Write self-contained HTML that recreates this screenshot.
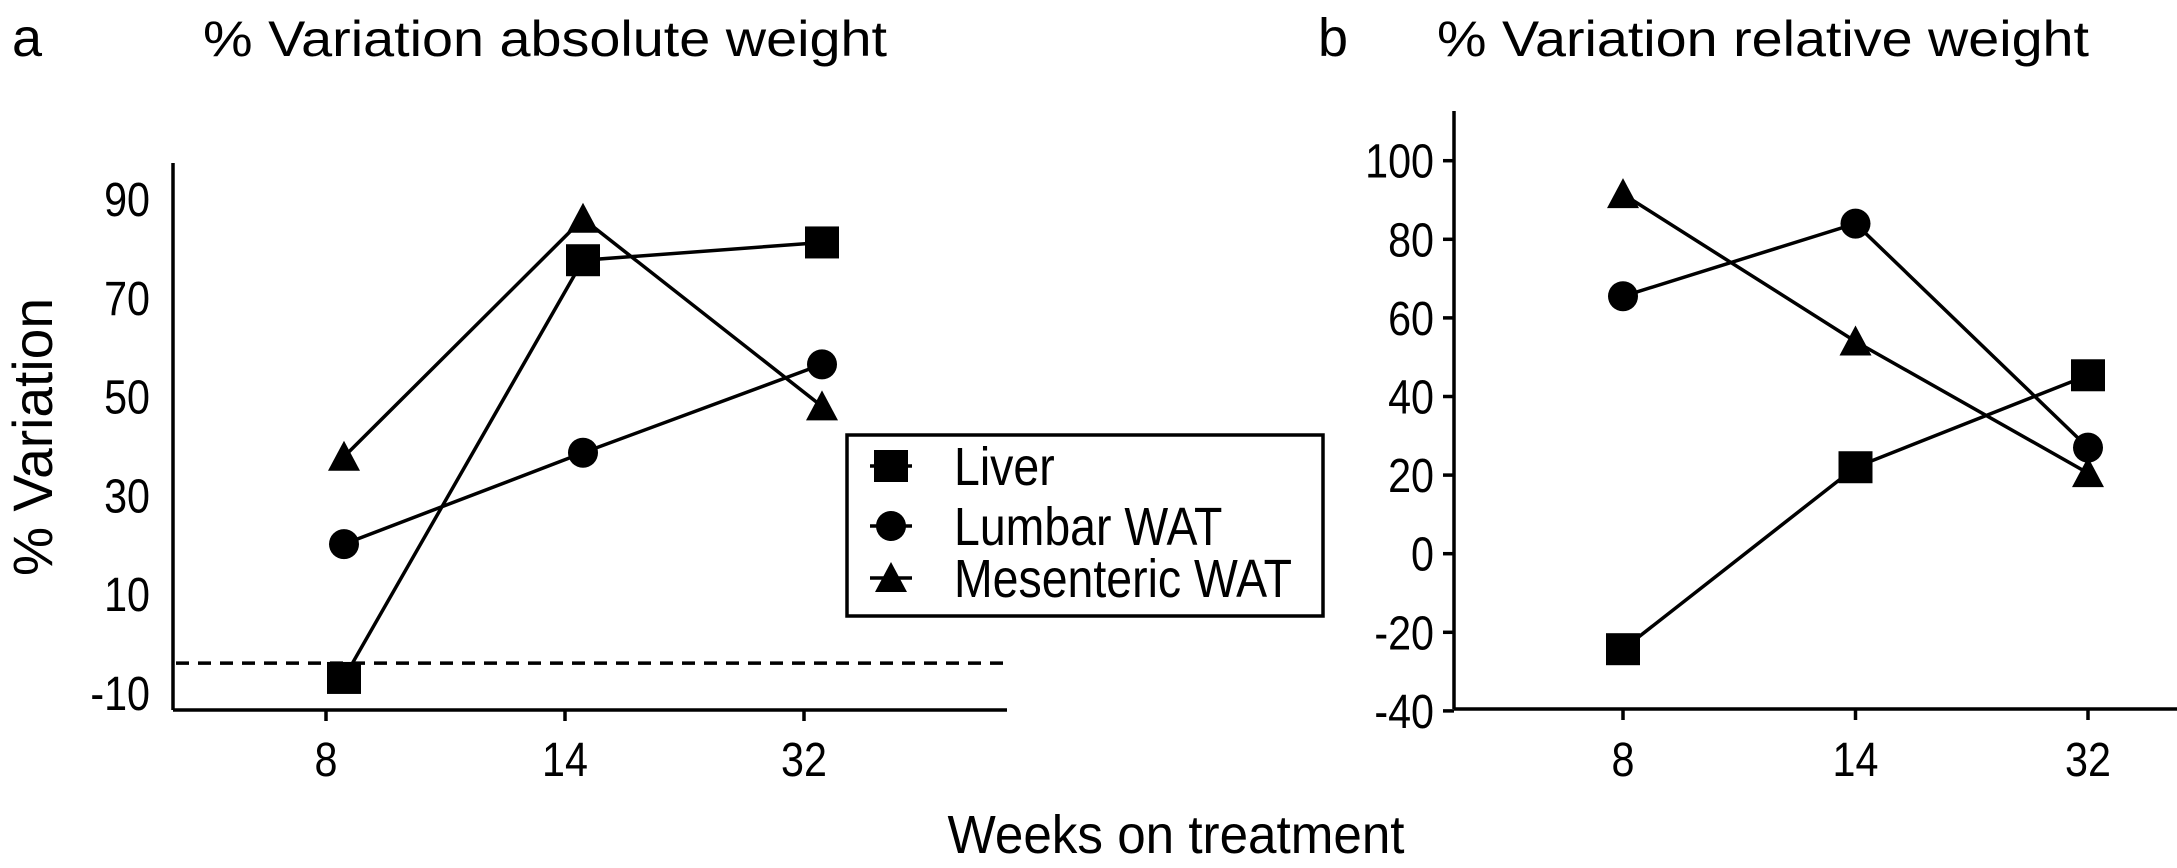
<!DOCTYPE html>
<html><head><meta charset="utf-8">
<style>
html,body{margin:0;padding:0;background:#fff;}
svg{display:block;font-family:"Liberation Sans",Arial,sans-serif;}
</style></head>
<body>
<svg id="chart" width="2177" height="868" viewBox="0 0 2177 868" xmlns="http://www.w3.org/2000/svg">
<text x="12" y="56" font-size="54">a</text>
<text x="203" y="56" font-size="50" textLength="684" lengthAdjust="spacingAndGlyphs">% Variation absolute weight</text>
<text x="1318" y="56" font-size="54">b</text>
<text x="1437" y="56" font-size="50" textLength="652" lengthAdjust="spacingAndGlyphs">% Variation relative weight</text>
<text transform="translate(52,437) rotate(-90)" text-anchor="middle" font-size="56" textLength="278" lengthAdjust="spacingAndGlyphs">% Variation</text>
<text x="1176" y="853" text-anchor="middle" font-size="54" textLength="457" lengthAdjust="spacingAndGlyphs">Weeks on treatment</text>
<g id="pa"></g>
<g id="pb"></g>
<g id="legend"></g>
</svg>
<script>
const categories = ["8","14","32"];
const seriesNames = ["Liver","Lumbar WAT","Mesenteric WAT"];
const seriesMarkers = ["square","circle","triangle"];
const aLiver = [-7, 77.6, 81.2];
const aLumbar = [20.1, 38.6, 56.5];
const aMesenteric = [37.8, 86, 48];
const aTicks = [90, 70, 50, 30, 10, -10];
const aBaseline = -4;
const bLiver = [-24.3, 22, 45.4];
const bLumbar = [65.5, 84, 27];
const bMesenteric = [91.5, 54, 20.5];
const bTicks = [100, 80, 60, 40, 20, 0, -20, -40];

const NS = "http://www.w3.org/2000/svg";
function mk(parent, tag, attrs){
  const e = document.createElementNS(NS, tag);
  for (const k in attrs) e.setAttribute(k, attrs[k]);
  parent.appendChild(e);
  return e;
}
function marker(g, type, x, y, name){
  let e;
  if (type === "square") e = mk(g, "rect", {x:x-17, y:y-16, width:34, height:32, fill:"#000"});
  else if (type === "circle") e = mk(g, "ellipse", {cx:x, cy:y, rx:15, ry:15, fill:"#000"});
  else e = mk(g, "polygon", {points:(x-16)+","+(y+14)+" "+(x+16)+","+(y+14)+" "+x+","+(y-16), fill:"#000"});
  
  
  return e;
}
function label(g, x, y, txt, anchor, size, name){
  const t = mk(g, "text", {transform:"translate("+x+","+y+") scale(0.86,1)", "text-anchor":anchor, "font-size":size});
  t.textContent = txt;
  
  
  return t;
}
function drawPanel(gid, cfg){
  const g = document.getElementById(gid);
  const y = v => cfg.y0 + (cfg.v0 - v) * cfg.k;
  const xt = i => cfg.xticks[0] + i * (cfg.xticks[1] - cfg.xticks[0]);
  const xp = i => xt(i) + cfg.pOff;
  let ax = mk(g, "line", {x1:cfg.axX, y1:cfg.axTop, x2:cfg.axX, y2:cfg.axBot, stroke:"#000", "stroke-width":3.5});
  
  
  let bx = mk(g, "line", {x1:cfg.axX, y1:cfg.axBot, x2:cfg.axRight, y2:cfg.axBot, stroke:"#000", "stroke-width":3.5});
  
  
  cfg.ticks.forEach(t => {
    const ty = y(t);
    if (cfg.yTickMarks) {
      const tm = mk(g, "line", {x1:cfg.axX-11, y1:ty, x2:cfg.axX, y2:ty, stroke:"#000", "stroke-width":3.5});
      
      
    }
    label(g, cfg.labX, ty+17, String(t), "end", 48, 'y-tick-label');
  });
  categories.forEach((c, i) => {
    const tm = mk(g, "line", {x1:xt(i), y1:cfg.axBot, x2:xt(i), y2:cfg.axBot+11, stroke:"#000", "stroke-width":3.5});
    
    
    label(g, xt(i), 776, c, "middle", 48, 'x-tick-label');
  });
  if (cfg.baseline !== undefined) {
    const dl = mk(g, "line", {x1:cfg.axX+3, y1:y(cfg.baseline), x2:cfg.axRight, y2:y(cfg.baseline), stroke:"#000", "stroke-width":3.5, "stroke-dasharray":"13,9"});
    
    
  }
  cfg.series.forEach((vals, s) => {
    const pts = vals.map((v, i) => xp(i) + "," + y(v)).join(" ");
    const pl = mk(g, "polyline", {points:pts, fill:"none", stroke:"#000", "stroke-width":3.5});
    
    
    vals.forEach((v, i) => marker(g, seriesMarkers[s], xp(i), y(v), 'point-' + seriesMarkers[s]));
  });
}
drawPanel("pa", {y0:199, v0:90, k:4.9375, axX:173, axTop:163, axBot:710, axRight:1007, labX:150,
  xticks:[326,565], pOff:18, ticks:aTicks, baseline:aBaseline, yTickMarks:false,
  series:[aLiver, aLumbar, aMesenteric]});
drawPanel("pb", {y0:553.7, v0:0, k:3.93, axX:1454, axTop:111, axBot:709, axRight:2177, labX:1434,
  xticks:[1623,1855.5], pOff:0, ticks:bTicks, yTickMarks:true,
  series:[bLiver, bLumbar, bMesenteric]});

const lg = document.getElementById("legend");
const box = mk(lg, "rect", {x:847, y:435, width:476, height:181, fill:"#fff", stroke:"#000", "stroke-width":3.5});


const ly = [466, 526, 578];
seriesNames.forEach((n, s) => {
  const ll = mk(lg, "line", {x1:870, y1:ly[s], x2:912, y2:ly[s], stroke:"#000", "stroke-width":3.5});
  
  
  marker(lg, seriesMarkers[s], 891, ly[s], 'legend-marker');
  label(lg, 954, ly[s]+19, n, "start", 54, 'legend-entry');
});
</script>
</body></html>
